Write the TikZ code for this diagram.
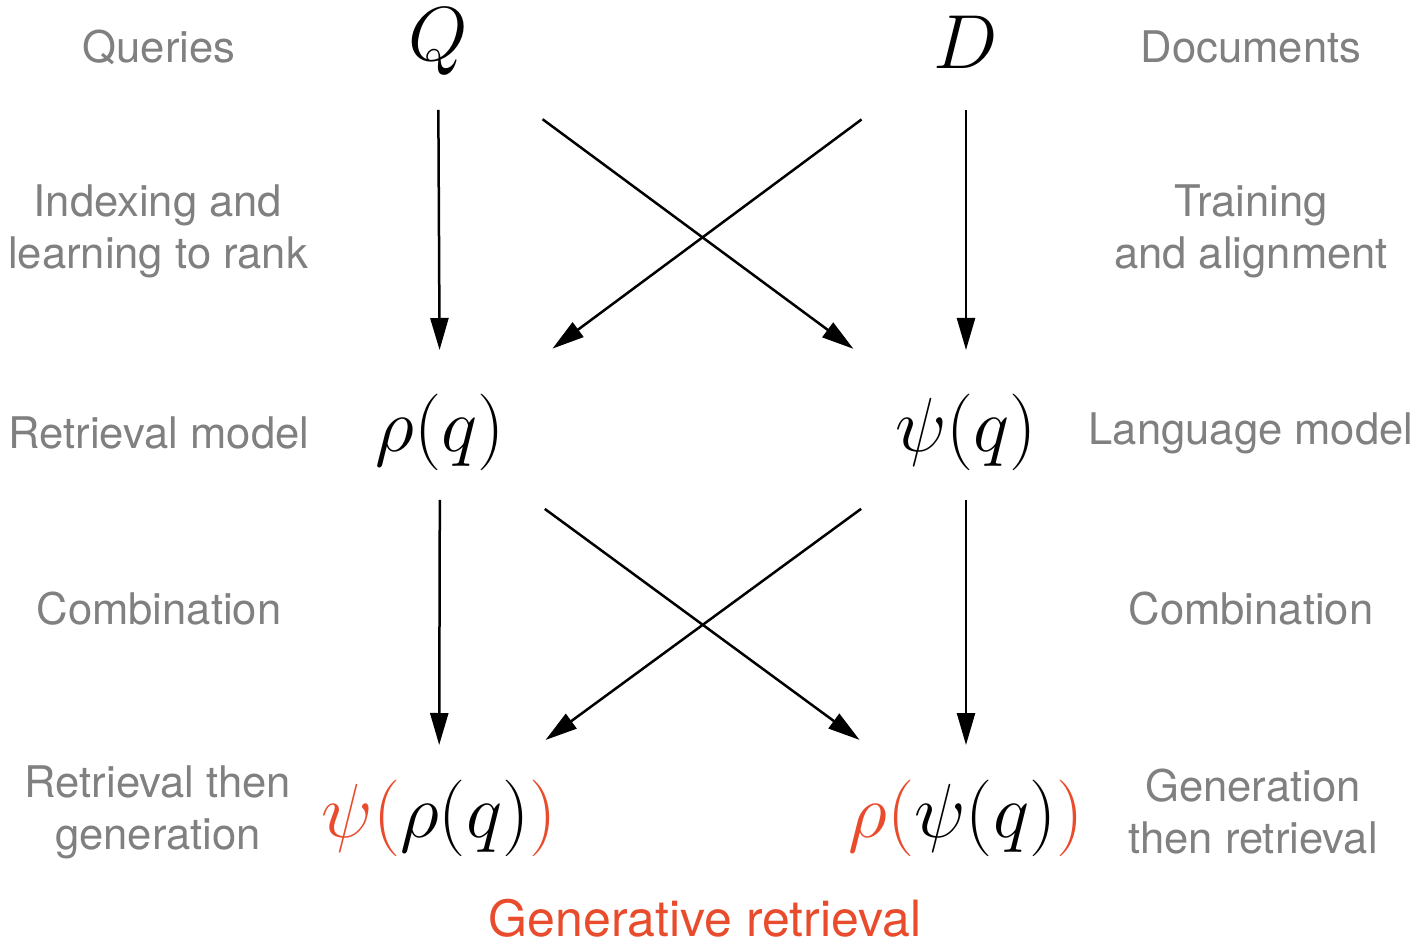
\documentclass[tikz,border=0pt]{standalone}
\usepackage{fontspec}
\setmainfont{TeX Gyre Heros}
\usepackage{tikz}
\usetikzlibrary{arrows.meta}
\definecolor{lbl}{RGB}{128,128,128}
\definecolor{gen}{RGB}{232,76,45}

\begin{document}
\begin{tikzpicture}[x=0.5pt,y=-0.5pt,
  t/.style={text=lbl,align=center,font=\fontsize{21.8}{26}\selectfont},
  m/.style={inner sep=0pt,font=\Huge,scale=1.54},
  a/.style={line width=1.25pt,-{Triangle[length=16pt,width=9pt]}},
  v/.style={a,shorten <=34pt},
  d/.style={a,shorten <=65pt}]
\useasboundingbox (0,0) rectangle (1419,946);
% top row
\node[m] (Q) at (438,42) {$Q$};
\node[m] (D) at (966,42) {$D$};
\node[m] (rq) at (440,432) {$\rho(q)$};
\node[m] (pq) at (966,432) {$\psi(q)$};
\node[m] (prq) at (439,818) {$\color{gen}\psi(\color{black}\rho(q)\color{gen})$};
\node[m] (rpq) at (966,818) {$\color{gen}\rho(\color{black}\psi(q)\color{gen})$};
% labels
\node[t] (lq) at (159,47) {Queries};
\node[t] (ld) at (1251,47) {Documents};
\node[t] (lidx) at (158,231) {Indexing and\\learning to rank};
\node[t] (ltr) at (1251,231) {Training\\and alignment};
\node[t] (lrm) at (159,433) {Retrieval model};
\node[t] (llm) at (1251,433) {Language model};
\node[t] (lc1) at (159,609) {Combination};
\node[t] (lc2) at (1251,609) {Combination};
\node[t] (lrg) at (158,812) {Retrieval then\\generation};
\node[t] (lgr) at (1253,812) {Generation\\then retrieval};
\node[t,text=gen,font=\fontsize{25}{30}\selectfont] (lgen) at (705,918) {Generative retrieval};
% arrows
\draw[v,shorten >=41pt] (Q.center) -- (rq.center);
\draw[v,shorten >=41pt] (D.center) -- (pq.center);
\draw[d,shorten >=70pt] (Q.center) -- (pq.center);
\draw[d,shorten >=70pt] (D.center) -- (rq.center);
\draw[v,shorten >=36.5pt] (rq.center) -- (prq.center);
\draw[v,shorten >=36.5pt] (pq.center) -- (rpq.center);
\draw[d,shorten >=66pt] (rq.center) -- (rpq.center);
\draw[d,shorten >=66pt] (pq.center) -- (prq.center);
\end{tikzpicture}
\end{document}
